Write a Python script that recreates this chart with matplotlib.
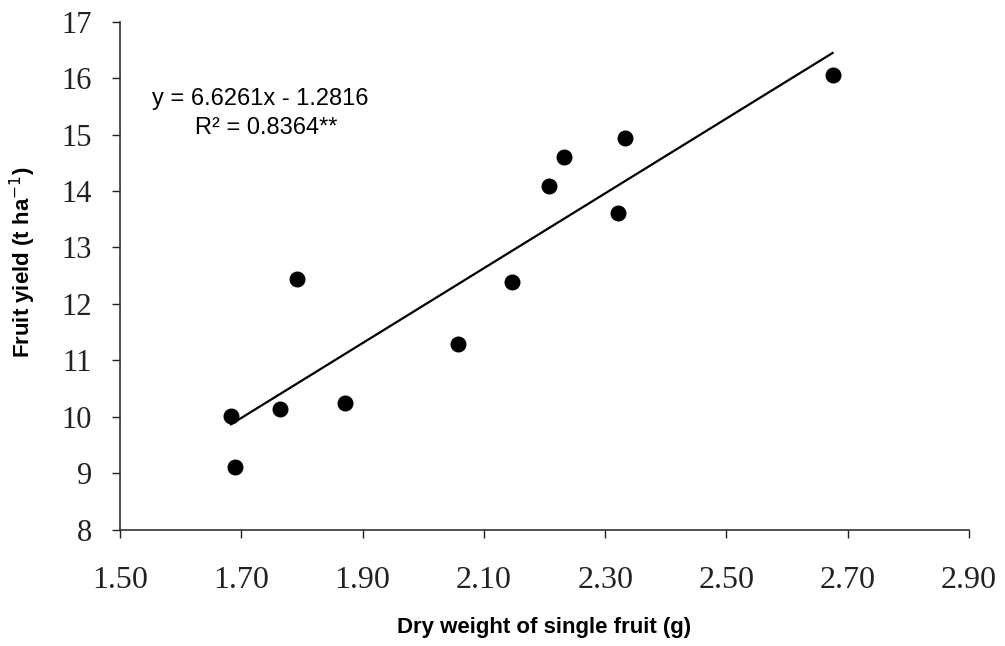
import matplotlib
matplotlib.use("Agg")
import matplotlib.pyplot as plt
import numpy as np

# data
dry_weight = [1.683, 1.690, 1.764, 1.792, 1.871, 2.057, 2.146, 2.207, 2.232, 2.321, 2.332, 2.675]
fruit_yield = [10.02, 9.12, 10.14, 12.44, 10.25, 11.29, 12.39, 14.09, 14.60, 13.61, 14.94, 16.05]

# regression reported on the chart
slope = 6.6261
intercept = -1.2816
r2_text = 'R\u00b2 = 0.8364**'

x_ticks = [1.50, 1.70, 1.90, 2.10, 2.30, 2.50, 2.70, 2.90]
y_ticks = [8, 9, 10, 11, 12, 13, 14, 15, 16, 17]

fig = plt.figure(figsize=(10.05, 6.46), dpi=100)
ax = fig.add_axes([0.1194, 0.1796, 0.8448, 0.7871])

ax.plot(dry_weight, fruit_yield, 'o', color='black', markersize=10.5)

fit_x = np.array([min(dry_weight), max(dry_weight)])
ax.plot(fit_x, slope*fit_x + intercept, color='black', linewidth=1.6)

ax.text(0.165, 0.848, 'y = %.4fx - %.4f' % (slope, -intercept), transform=ax.transAxes,
        ha='center', va='center', fontsize=17, family='Liberation Sans')
ax.text(0.172, 0.79, r2_text, transform=ax.transAxes,
        ha='center', va='center', fontsize=17, family='Liberation Sans')

ax.set_xlim(1.5, 2.9)
ax.set_ylim(8, 17)
ax.set_xticks(x_ticks)
ax.set_xticklabels(['%.2f' % v for v in x_ticks])
ax.set_yticks(y_ticks)

for lab in ax.get_xticklabels():
    lab.set_family('Liberation Serif')
    lab.set_fontsize(23)
for lab in ax.get_yticklabels():
    lab.set_family('Liberation Serif')
    lab.set_fontsize(22)

ax.spines['top'].set_visible(False)
ax.spines['right'].set_visible(False)
ax.spines['left'].set_linewidth(1.2)
ax.spines['bottom'].set_linewidth(1.2)
ax.spines['left'].set_color('#333333')
ax.spines['bottom'].set_color('#333333')
ax.tick_params(direction='out', length=6, width=1.0, colors='#222222')
ax.tick_params(axis='x', pad=20)
ax.tick_params(axis='y', pad=14)

ax.set_xlabel('Dry weight of single fruit (g)', fontsize=16, fontweight='bold',
              family='Liberation Sans')
ax.set_ylabel('Fruit yield (t ha$^{-1}$)', fontsize=16, fontweight='bold',
              family='Liberation Sans')
ax.xaxis.set_label_coords(0.5, -0.171)
ax.yaxis.set_label_coords(-0.097, 0.527)

fig.savefig('out.png', dpi=100)
